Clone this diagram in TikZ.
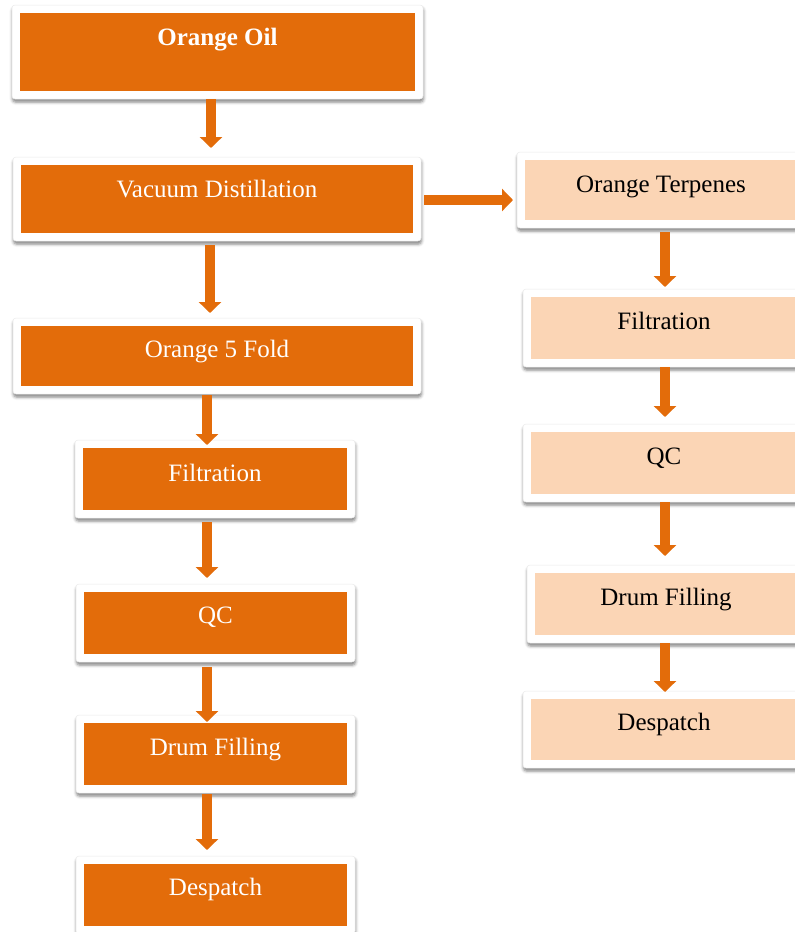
\documentclass[tikz,border=0pt]{standalone}
\usepackage{fontspec}
\setmainfont{Liberation Serif}
\usetikzlibrary{arrows.meta,shadows.blur}
\definecolor{dorange}{HTML}{E36C0A}
\definecolor{lorange}{HTML}{FBD5B5}
\begin{document}
\begin{tikzpicture}[x=1pt,y=-1pt,
  frame/.style={draw=black!8, line width=0.5pt, fill=white, rounded corners=3pt,
    blur shadow={shadow xshift=0.5pt, shadow yshift=-3pt, shadow blur radius=3pt, shadow opacity=50},
    inner sep=0pt, outer sep=0pt,
    path picture={\fill[#1, sharp corners] ([xshift=8pt,yshift=-8pt]path picture bounding box.north west) rectangle ([xshift=-8pt,yshift=8pt]path picture bounding box.south east);}},
  dbox/.style={frame=dorange},
  lbox/.style={frame=lorange},
  wtxt/.style={anchor=base, text=white, font=\fontsize{25}{30}\selectfont, inner sep=0pt},
  btxt/.style={anchor=base, text=black, font=\fontsize{25}{30}\selectfont, inner sep=0pt},
  arr/.style={draw=dorange, line width=9.5pt, -{Triangle[width=22pt,length=11pt]}}
]
\useasboundingbox (0,0) rectangle (795,932);
\clip (0,0) rectangle (795,932);

% left column
\node[dbox, minimum width=411pt, minimum height=94pt] (oil)  at (217.5,52)  {};
\node[dbox, minimum width=408pt, minimum height=84pt] (vac)  at (217,199)   {};
\node[dbox, minimum width=408pt, minimum height=76pt] (fold) at (217,356)   {};
\node[dbox, minimum width=280pt, minimum height=78pt] (filt) at (215,479)   {};
\node[dbox, minimum width=279pt, minimum height=78pt] (qc)   at (215.5,623) {};
\node[dbox, minimum width=279pt, minimum height=78pt] (drum) at (215.5,754) {};
\node[dbox, minimum width=279pt, minimum height=78pt] (desp) at (215.5,895) {};

% right column
\node[lbox, minimum width=288pt, minimum height=76pt] (terp)  at (661,190)   {};
\node[lbox, minimum width=282pt, minimum height=78pt] (rfilt) at (664,328)   {};
\node[lbox, minimum width=282pt, minimum height=78pt] (rqc)   at (664,463)   {};
\node[lbox, minimum width=278pt, minimum height=78pt] (rdrum) at (666,604)   {};
\node[lbox, minimum width=282pt, minimum height=77pt] (rdesp) at (664,729.5) {};

% texts
\node[wtxt] (toil)  at ([yshift=-40pt]oil.north)  {\bfseries Orange Oil};
\node[wtxt] (tvac)  at ([yshift=-40pt]vac.north)  {Vacuum Distillation};
\node[wtxt] (tfold) at ([yshift=-39pt]fold.north) {Orange 5 Fold};
\node[wtxt] (tfilt) at ([yshift=-41pt]filt.north) {Filtration};
\node[wtxt] (tqc)   at ([yshift=-39pt]qc.north)   {QC};
\node[wtxt] (tdrum) at ([yshift=-40pt]drum.north) {Drum Filling};
\node[wtxt] (tdesp) at ([yshift=-39pt]desp.north) {Despatch};
\node[btxt] (tterp)  at ([yshift=-40pt]terp.north)  {Orange Terpenes};
\node[btxt] (trfilt) at ([yshift=-40pt]rfilt.north) {Filtration};
\node[btxt] (trqc)   at ([yshift=-40pt]rqc.north)   {QC};
\node[btxt] (trdrum) at ([yshift=-40pt]rdrum.north) {Drum Filling};
\node[btxt] (trdesp) at ([yshift=-39pt]rdesp.north) {Despatch};

% arrows left
\draw[arr, shorten >=9pt] ([xshift=-6.5pt]oil.south) -- ([xshift=-6.5pt]oil.south |- vac.north);
\draw[arr, shorten <=4pt, shorten >=5pt] ([xshift=-7pt]vac.south) -- ([xshift=-7pt]vac.south |- fold.north);
\draw[arr, shorten <=1pt, shorten >=-5pt] ([xshift=-10pt]fold.south) -- ([xshift=-10pt]fold.south |- filt.north);
\draw[arr, shorten <=4pt, shorten >=6pt] ([xshift=-8pt]filt.south) -- ([xshift=-8pt]filt.south |- qc.north);
\draw[arr, shorten <=5pt, shorten >=-7pt] ([xshift=-8.5pt]qc.south) -- ([xshift=-8.5pt]qc.south |- drum.north);
\draw[arr, shorten <=1pt, shorten >=6pt] ([xshift=-8.5pt]drum.south) -- ([xshift=-8.5pt]drum.south |- desp.north);

% horizontal arrow
\draw[arr, shorten <=3pt, shorten >=4pt] ([yshift=-1pt]vac.east) -- ([yshift=-1pt]vac.east -| terp.west);

% arrows right
\draw[arr, shorten <=4pt, shorten >=2pt] ([xshift=4pt]terp.south) -- ([xshift=4pt]terp.south |- rfilt.north);
\draw[arr, shorten >=7pt] ([xshift=1pt]rfilt.south) -- ([xshift=1pt]rfilt.south |- rqc.north);
\draw[arr, shorten >=9pt] ([xshift=1pt]rqc.south) -- ([xshift=1pt]rqc.south |- rdrum.north);
\draw[arr, shorten >=-1pt] ([xshift=-1pt]rdrum.south) -- ([xshift=-1pt]rdrum.south |- rdesp.north);
\end{tikzpicture}
\end{document}
